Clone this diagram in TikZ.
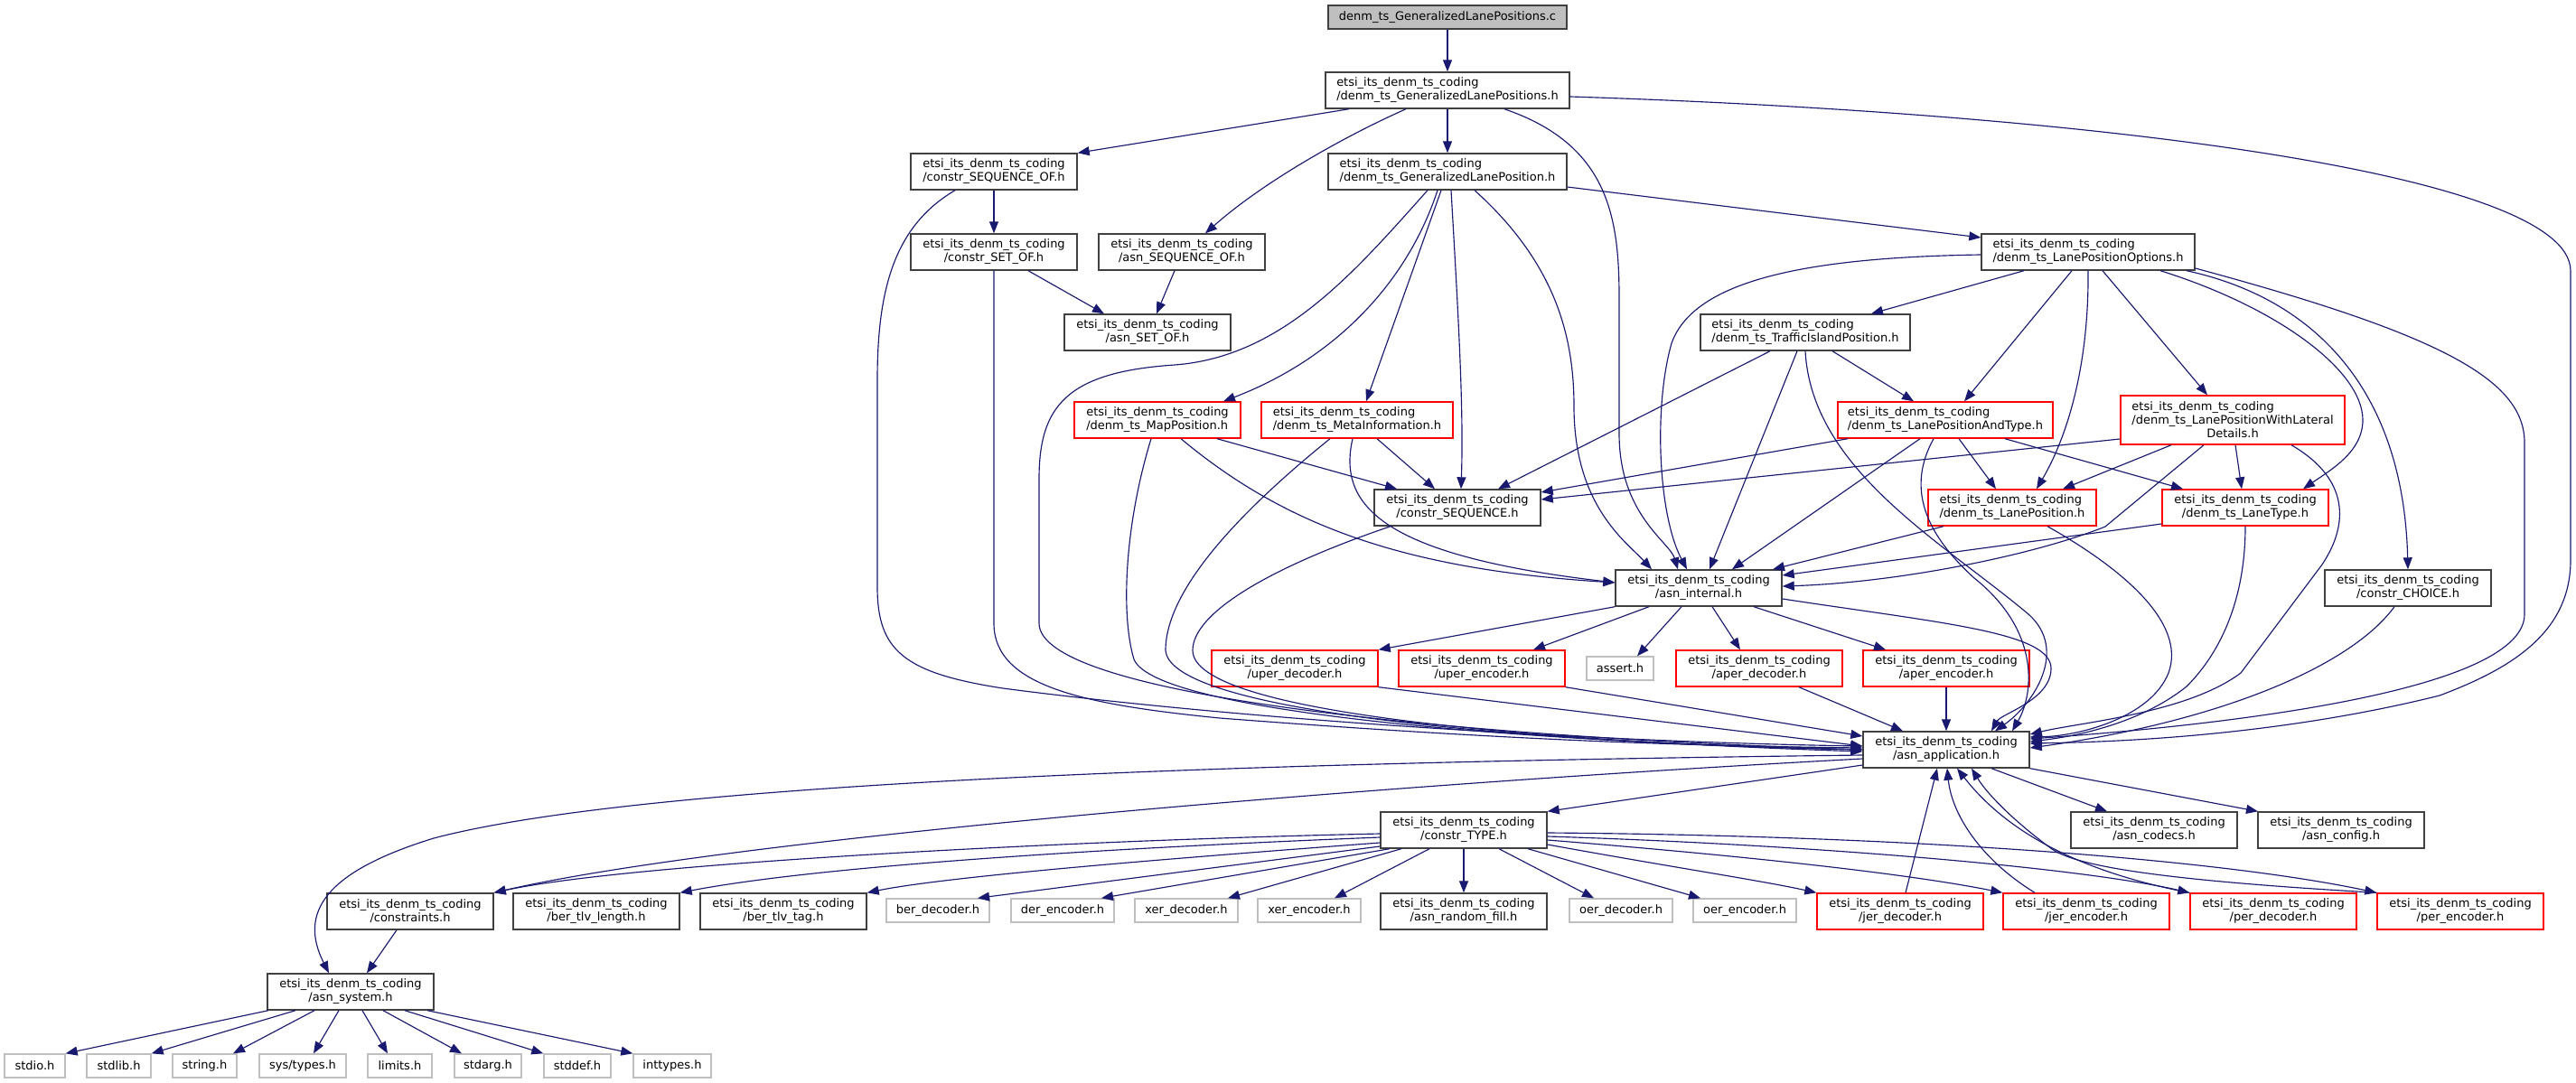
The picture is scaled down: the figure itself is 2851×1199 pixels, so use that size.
\documentclass[tikz,border=0pt]{standalone}
\usepackage{fontspec}
\setmainfont{DejaVu Sans}
\usetikzlibrary{arrows.meta}
\definecolor{edgec}{HTML}{191970}
\definecolor{nodec}{HTML}{404040}
\definecolor{grayc}{HTML}{BFBFBF}
\definecolor{redc}{HTML}{FF0000}
\newcommand{\etsipre}{etsi\_its\_denm\_ts\_coding}
\begin{document}
\begin{tikzpicture}[x=1pt,y=-1pt,
  nb/.style={draw=nodec, line width=1.4pt, fill=white, inner sep=0pt, minimum height=40pt, minimum width=184pt, align=center, font=\fontsize{13}{15}\selectfont},
  rb/.style={nb, draw=redc},
  gb/.style={nb, draw=grayc, minimum height=26pt},
  e/.style={draw=edgec, line width=1.15pt, -{Triangle[length=13pt,width=10pt]}}]
\path[fill=white] (0,0) rectangle (2851,1199);
\useasboundingbox (0,0) rectangle (2851,1199);

% ---------- nodes ----------
\node[nb, fill=grayc, minimum width=264pt, minimum height=26pt] (root) at (1602,19) {denm\_ts\_GeneralizedLanePositions.c};
\node[nb, minimum width=270pt, align=left] (glps) at (1602,100) {\etsipre\\/denm\_ts\_GeneralizedLanePositions.h};
\node[nb, minimum width=264pt, align=left] (glp) at (1602,190) {\etsipre\\/denm\_ts\_GeneralizedLanePosition.h};
\node[nb] (seqof) at (1100,190) {\etsipre\\/constr\_SEQUENCE\_OF.h};
\node[nb] (setof) at (1100,279) {\etsipre\\/constr\_SET\_OF.h};
\node[nb] (asnseqof) at (1308,279) {\etsipre\\/asn\_SEQUENCE\_OF.h};
\node[nb] (asnsetof) at (1270,368) {\etsipre\\/asn\_SET\_OF.h};
\node[nb, minimum width=236pt, align=left] (lpo) at (2311,279) {\etsipre\\/denm\_ts\_LanePositionOptions.h};
\node[nb, minimum width=232pt, align=left] (traffic) at (1998,368) {\etsipre\\/denm\_ts\_TrafficIslandPosition.h};
\node[rb, align=left] (mappos) at (1281,465) {\etsipre\\/denm\_ts\_MapPosition.h};
\node[rb, minimum width=212pt, align=left] (meta) at (1502,465) {\etsipre\\/denm\_ts\_MetaInformation.h};
\node[rb, minimum width=238pt, align=left] (lpat) at (2153,465) {\etsipre\\/denm\_ts\_LanePositionAndType.h};
\node[rb, minimum width=248pt, minimum height=54pt] (lpwld) at (2471,465) {\rlap{\etsipre}\phantom{/denm\_ts\_LanePositionWithLateral}\\/denm\_ts\_LanePositionWithLateral\\Details.h};
\node[nb] (cseq) at (1613,562) {\etsipre\\/constr\_SEQUENCE.h};
\node[rb, minimum width=186pt, align=left] (lanepos) at (2227,562) {\etsipre\\/denm\_ts\_LanePosition.h};
\node[rb] (lanetype) at (2485,562) {\etsipre\\/denm\_ts\_LaneType.h};
\node[nb] (internal) at (1880,651) {\etsipre\\/asn\_internal.h};
\node[nb] (choice) at (2665,651) {\etsipre\\/constr\_CHOICE.h};
\node[rb] (uperdec) at (1433,740) {\etsipre\\/uper\_decoder.h};
\node[rb] (uperenc) at (1640,740) {\etsipre\\/uper\_encoder.h};
\node[gb, minimum width=74pt] (assert) at (1793,740) {assert.h};
\node[rb] (aperdec) at (1947,740) {\etsipre\\/aper\_decoder.h};
\node[rb] (aperenc) at (2154,740) {\etsipre\\/aper\_encoder.h};
\node[nb] (app) at (2154,830) {\etsipre\\/asn\_application.h};
\node[nb] (ctype) at (1620,919) {\etsipre\\/constr\_TYPE.h};
\node[nb] (codecs) at (2384,919) {\etsipre\\/asn\_codecs.h};
\node[nb] (config) at (2591,919) {\etsipre\\/asn\_config.h};
\node[nb] (constraints) at (454,1009) {\etsipre\\/constraints.h};
\node[nb] (bertlvlen) at (660,1009) {\etsipre\\/ber\_tlv\_length.h};
\node[nb] (bertlvtag) at (867,1009) {\etsipre\\/ber\_tlv\_tag.h};
\node[gb, minimum width=114pt] (berdec) at (1038,1008) {ber\_decoder.h};
\node[gb, minimum width=114pt] (derenc) at (1176,1008) {der\_encoder.h};
\node[gb, minimum width=114pt] (xerdec) at (1313,1008) {xer\_decoder.h};
\node[gb, minimum width=114pt] (xerenc) at (1449,1008) {xer\_encoder.h};
\node[nb] (randfill) at (1620,1009) {\etsipre\\/asn\_random\_fill.h};
\node[gb, minimum width=114pt] (oerdec) at (1794,1008) {oer\_decoder.h};
\node[gb, minimum width=114pt] (oerenc) at (1931,1008) {oer\_encoder.h};
\node[rb] (jerdec) at (2103,1009) {\etsipre\\/jer\_decoder.h};
\node[rb] (jerenc) at (2309,1009) {\etsipre\\/jer\_encoder.h};
\node[rb] (perdec) at (2516,1009) {\etsipre\\/per\_decoder.h};
\node[rb] (perenc) at (2723,1009) {\etsipre\\/per\_encoder.h};
\node[nb] (system) at (388,1098) {\etsipre\\/asn\_system.h};
\node[gb, minimum width=67pt] (stdio) at (38.5,1180) {stdio.h};
\node[gb, minimum width=71pt] (stdlib) at (131.5,1180) {stdlib.h};
\node[gb, minimum width=71pt] (string) at (226.5,1180) {string.h};
\node[gb, minimum width=96pt] (systypes) at (335,1180) {sys/types.h};
\node[gb, minimum width=71pt] (limits) at (442.5,1180) {limits.h};
\node[gb, minimum width=74pt] (stdarg) at (540,1180) {stdarg.h};
\node[gb, minimum width=74pt] (stddef) at (639,1180) {stddef.h};
\node[gb, minimum width=86pt] (inttypes) at (744,1180) {inttypes.h};

% ---------- edges ----------
\draw[e] (root) -- (glps);
\draw[e] (glps.south -| 1493,0) -- (seqof.north east);
\draw[e] (glps.south -| 1556,0) .. controls (1490,150) and (1400,200) .. (asnseqof.north -| 1334,0);
\draw[e] (glps) -- (glp);
\draw[e] (glps.south -| 1665,0) .. controls (1780,160) and (1792,240) .. (1792,330) -- (1792,480) .. controls (1792,570) and (1848,600) .. (internal.north -| 1857,0);
\draw[e] (glps.east |- 0,107) .. controls (2300,125) and (2845,190) .. (2845,300) -- (2845,620) .. controls (2845,700) and (2780,740) .. (2700,770) .. controls (2500,820) and (2300,822) .. (app.east |- 0,823);

\draw[e] (seqof) -- (setof);
\draw[e] (seqof.south -| 1057,0) .. controls (990,250) and (971,320) .. (971,420) -- (971,650) .. controls (971,720) and (1000,745) .. (1110,762) .. controls (1400,800) and (1800,822) .. (app.west |- 0,826);
\draw[e] (setof.south -| 1138,0) -- (asnsetof.north -| 1222,0);
\draw[e] (setof.south) -- (1100,690) .. controls (1100,760) and (1200,780) .. (1350,795) .. controls (1700,822) and (1900,826) .. (app.west |- 0,828);
\draw[e] (asnseqof.south -| 1300,0) -- (asnsetof.north -| 1280,0);

\draw[e] (glp.south -| 1591,0) .. controls (1555,320) and (1470,400) .. (mappos.north -| 1354,0);
\draw[e] (glp.south -| 1595,0) -- (meta.north -| 1512,0);
\draw[e] (glp.south -| 1606,0) .. controls (1614,350) and (1620,450) .. (cseq.north -| 1617,0);
\draw[e] (glp.south -| 1632,0) .. controls (1720,290) and (1742,370) .. (1742,450) .. controls (1742,560) and (1800,600) .. (internal.north -| 1828,0);
\draw[e] (glp.east |- 0,207) -- (lpo.west |- 0,263);
\draw[e] (glp.south -| 1580,0) .. controls (1500,300) and (1420,395) .. (1300,404) .. controls (1180,412) and (1150,450) .. (1150,530) -- (1150,690) .. controls (1150,770) and (1600,815) .. (app.west |- 0,830);

\draw[e] (lpo.south -| 2240,0) -- (traffic.north -| 2071,0);
\draw[e] (lpo.south -| 2293,0) -- (lpat.north -| 2174,0);
\draw[e] (lpo.south -| 2311,0) .. controls (2312,400) and (2290,480) .. (lanepos.north -| 2254,0);
\draw[e] (lpo.south -| 2327,0) -- (lpwld.north -| 2443,0);
\draw[e] (lpo.south -| 2391,0) .. controls (2520,340) and (2615,410) .. (2615,465) .. controls (2615,500) and (2580,520) .. (lanetype.north -| 2549,0);
\draw[e] (lpo.south -| 2420,0) .. controls (2560,330) and (2660,430) .. (choice.north -| 2665,0);
\draw[e] (lpo.east |- 0,297) .. controls (2700,370) and (2794,420) .. (2794,490) -- (2794,680) .. controls (2794,760) and (2500,800) .. (app.east |- 0,818);
\draw[e] (lpo.west |- 0,282) .. controls (2000,285) and (1875,310) .. (1850,380) .. controls (1830,450) and (1835,570) .. (internal.north -| 1867,0);

\draw[e] (traffic.south -| 1959,0) -- (cseq.north -| 1658,0);
\draw[e] (traffic.south -| 1989,0) -- (internal.north -| 1892,0);
\draw[e] (traffic.south -| 2028,0) -- (lpat.north -| 2118,0);
\draw[e] (traffic.south -| 1998,0) .. controls (2005,520) and (2150,600) .. (2245,680) .. controls (2290,720) and (2250,780) .. (app.north -| 2208,0);

\draw[e] (lpat.south -| 2045,0) -- (cseq.east |- 0,545);
\draw[e] (lpat.south -| 2125,0) -- (internal.north -| 1917,0);
\draw[e] (lpat.south -| 2168,0) -- (lanepos.north -| 2209,0);
\draw[e] (lpat.south -| 2219,0) -- (lanetype.north -| 2416,0);
\draw[e] (lpat.south -| 2140,0) .. controls (2110,540) and (2130,590) .. (2185,640) .. controls (2260,700) and (2250,770) .. (app.north -| 2227,0);

\draw[e] (lpwld.west |- 0,486) -- (cseq.east |- 0,553);
\draw[e] (lpwld.south -| 2403,0) -- (lanepos.north -| 2283,0);
\draw[e] (lpwld.south -| 2474,0) -- (lanetype.north -| 2481,0);
\draw[e] (lpwld.south -| 2439,0) -- (2330,583) .. controls (2250,615) and (2100,645) .. (internal.east |- 0,649);
\draw[e] (lpwld.south -| 2536,0) .. controls (2600,530) and (2600,580) .. (2570,625) -- (2480,745) .. controls (2420,790) and (2300,800) .. (app.east |- 0,813);

\draw[e] (lanepos.south -| 2151,0) -- (internal.north -| 1962,0);
\draw[e] (lanepos.south -| 2266,0) .. controls (2350,630) and (2420,690) .. (2400,745) .. controls (2380,795) and (2300,815) .. (app.east |- 0,816);
\draw[e] (lanetype.west |- 0,580) -- (internal.east |- 0,637);
\draw[e] (lanetype.south) .. controls (2485,660) and (2460,720) .. (2420,760) .. controls (2370,800) and (2300,815) .. (app.east |- 0,821);
\draw[e] (choice.south -| 2650,0) .. controls (2600,740) and (2450,800) .. (app.east |- 0,828);

\draw[e] (cseq.south -| 1539,0) .. controls (1400,630) and (1320,680) .. (1320,720) .. controls (1320,790) and (1700,820) .. (app.west |- 0,832);
\draw[e] (mappos.south -| 1347,0) -- (cseq.north -| 1546,0);
\draw[e] (mappos.south -| 1307,0) .. controls (1420,580) and (1550,630) .. (internal.west |- 0,645);
\draw[e] (mappos.south -| 1274,0) .. controls (1245,580) and (1240,680) .. (1255,730) .. controls (1280,790) and (1700,822) .. (app.west |- 0,830);
\draw[e] (meta.south -| 1524,0) -- (cseq.north -| 1588,0);
\draw[e] (meta.south -| 1497,0) .. controls (1480,560) and (1530,615) .. (internal.west |- 0,645);
\draw[e] (meta.south -| 1472,0) .. controls (1380,560) and (1290,650) .. (1290,720) .. controls (1295,790) and (1700,822) .. (app.west |- 0,830);

\draw[e] (internal.south west) -- (uperdec.north east);
\draw[e] (internal.south -| 1825,0) -- (uperenc.north -| 1697,0);
\draw[e] (internal.south -| 1861,0) -- (assert.north -| 1812,0);
\draw[e] (internal.south -| 1895,0) -- (aperdec.north -| 1926,0);
\draw[e] (internal.south -| 1941,0) -- (aperenc.north -| 2087,0);
\draw[e] (internal.east |- 0,663) .. controls (2150,690) and (2270,700) .. (2270,740) .. controls (2270,775) and (2215,790) .. (app.north -| 2204,0);

\draw[e] (aperdec.south -| 1991,0) -- (app.north -| 2106,0);
\draw[e] (aperenc) -- (app);
\draw[e] (uperdec.south east) -- (app.west |- 0,826);
\draw[e] (uperenc.south east) -- (app.west |- 0,815);

\draw[e] (app.south -| 2204,0) -- (codecs.north -| 2332,0);
\draw[e] (app.south east) -- (config.north -| 2499,0);
\draw[e] (app.west |- 0,847) -- (ctype.north east);
\draw[e] (app.west |- 0,836) .. controls (1300,845) and (700,870) .. (480,928) .. controls (360,965) and (330,1010) .. (system.north -| 364,0);
\draw[e] (app.west |- 0,840) .. controls (1500,870) and (800,930) .. (constraints.north east);

\draw[e] (ctype.west |- 0,923) .. controls (1200,930) and (700,955) .. (constraints.north east);
\draw[e] (ctype.west |- 0,927) .. controls (1200,940) and (900,960) .. (bertlvlen.north east);
\draw[e] (ctype.west |- 0,933) .. controls (1300,950) and (1050,970) .. (bertlvtag.north east);
\draw[e] (ctype.west |- 0,937) -- (berdec.north -| 1082,0);
\draw[e] (ctype.south -| 1538,0) -- (derenc.north -| 1219,0);
\draw[e] (ctype.south -| 1551,0) -- (xerdec.north -| 1359,0);
\draw[e] (ctype.south -| 1582,0) -- (xerenc.north -| 1477,0);
\draw[e] (ctype) -- (randfill);
\draw[e] (ctype.south -| 1659,0) -- (oerdec.north -| 1764,0);
\draw[e] (ctype.south -| 1691,0) -- (oerenc.north -| 1882,0);
\draw[e] (ctype.east |- 0,935) .. controls (1850,960) and (1950,975) .. (jerdec.north west);
\draw[e] (ctype.east |- 0,930) .. controls (1900,945) and (2100,965) .. (jerenc.north west);
\draw[e] (ctype.east |- 0,926) .. controls (2000,935) and (2300,960) .. (perdec.north west);
\draw[e] (ctype.east |- 0,922) .. controls (2100,925) and (2450,950) .. (perenc.north west);

\draw[e] (jerdec.north -| 2109,0) -- (app.south -| 2144,0);
\draw[e] (jerenc.north -| 2252,0) .. controls (2190,950) and (2160,900) .. (app.south -| 2155,0);
\draw[e] (perdec.north west) .. controls (2300,965) and (2220,920) .. (app.south -| 2166,0);
\draw[e] (perenc.north west) .. controls (2400,975) and (2300,960) .. (2271,940) .. controls (2230,910) and (2200,880) .. (app.south -| 2182,0);

\draw[e] (constraints.south -| 439,0) -- (system.north -| 406,0);
\draw[e] (system.south -| 297,0) -- (stdio.north east);
\draw[e] (system.south -| 327,0) -- (stdlib.north east);
\draw[e] (system.south -| 348,0) -- (string.north -| 258,0);
\draw[e] (system.south -| 375,0) -- (systypes.north -| 347,0);
\draw[e] (system.south -| 401,0) -- (limits.north -| 429,0);
\draw[e] (system.south -| 424,0) -- (stdarg.north -| 511,0);
\draw[e] (system.south -| 448,0) -- (stddef.north west);
\draw[e] (system.south -| 473,0) -- (inttypes.north west);
\end{tikzpicture}
\end{document}
